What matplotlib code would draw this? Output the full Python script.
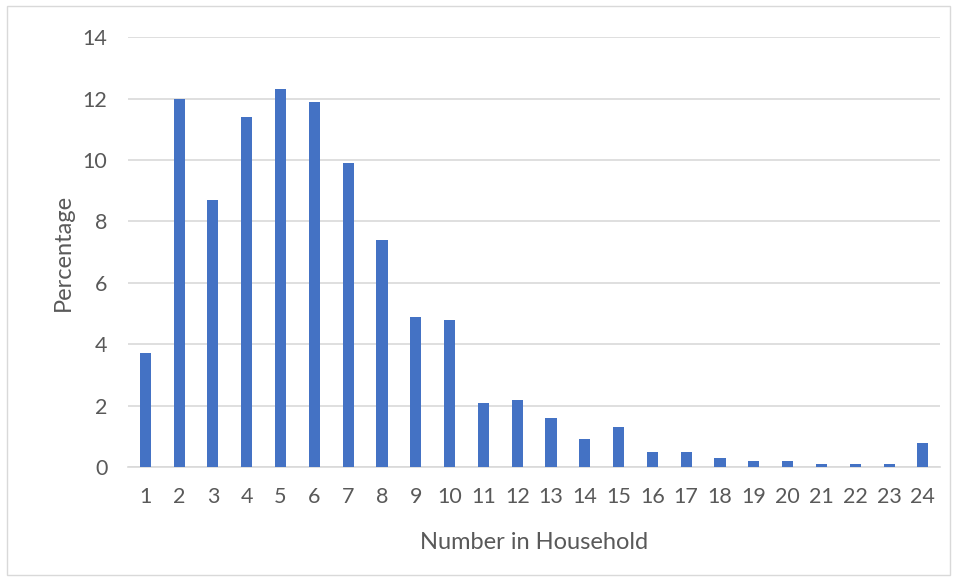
import matplotlib
matplotlib.use("Agg")
import matplotlib.pyplot as plt
import matplotlib.patches as patches

# household size vs share of households
household = [str(i) for i in range(1, 25)]
percent = [3.7, 12.0, 8.7, 11.4, 12.3, 11.9, 9.9, 7.4, 4.9, 4.8, 2.1, 2.2,
           1.6, 0.9, 1.3, 0.5, 0.5, 0.3, 0.2, 0.2, 0.1, 0.1, 0.1, 0.8]
yticks = [0, 2, 4, 6, 8, 10, 12, 14]

plt.rcParams['font.family'] = ['Lato', 'DejaVu Sans']
txt = '#595959'

fig = plt.figure(figsize=(9.58, 5.81), dpi=100)
ax = fig.add_axes([0.134, 0.196, 0.847, 0.74])

x = list(range(len(household)))
ax.bar(x, percent, width=0.33, color='#4472c4', zorder=3)

ax.set_xlim(-0.5, len(household) - 0.5)
ax.set_ylim(0, 14)
ax.set_yticks(yticks)
ax.set_xticks(x)
ax.set_xticklabels(household)
ax.grid(axis='y', color='#d9d9d9', linewidth=1.2, zorder=0)
for s in ['top', 'right', 'left']:
    ax.spines[s].set_visible(False)
ax.spines['bottom'].set_color('#d9d9d9')
ax.spines['bottom'].set_linewidth(1.2)
ax.tick_params(axis='both', length=0, labelsize=15.5, labelcolor=txt)
ax.tick_params(axis='y', pad=15)
ax.tick_params(axis='x', pad=14)
ax.set_xlabel('Number in Household', fontsize=17, color=txt, labelpad=18)
ax.set_ylabel('Percentage', fontsize=17, color=txt, labelpad=6)

# outer chart border
fig.patches.append(patches.Rectangle((7 / 958, 6 / 581), 943 / 958, 569 / 581,
                                     transform=fig.transFigure, fill=False,
                                     edgecolor='#d9d9d9', linewidth=1))

fig.savefig('out.png', dpi=100)
